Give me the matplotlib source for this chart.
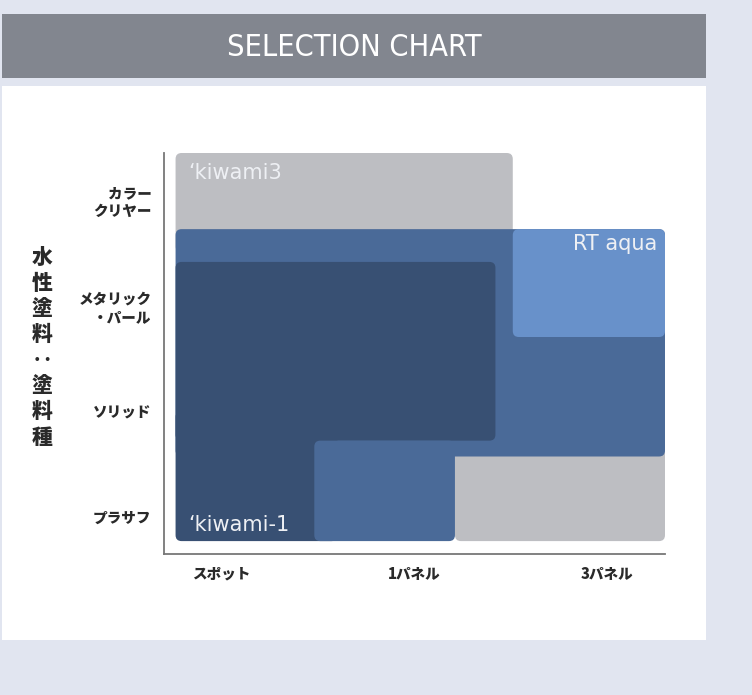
import matplotlib.pyplot as plt
from matplotlib.patches import FancyBboxPatch, Rectangle

plt.rcParams['font.family'] = ['Noto Sans CJK JP', 'DejaVu Sans']

# axis categories
x_labels = ['スポット', '1パネル', '3パネル']
y_labels = ['プラサフ', 'ソリッド', 'メタリック\n・パール', 'カラー\nクリヤー']
y_title = ['水', '性', '塗', '料', '‥', '塗', '料', '種']

# coverage boxes in category units (x: 1=spot .. 3=3 panels, y: 1=primer .. 4=clear)
box_name = ['kiwami3', 'kiwami3 low', 'RT aqua', 'RT aqua solo', 'kiwami-1', 'kiwami-1 low', 'RT aqua low']
box_x0 = [0.76, 2.21, 0.76, 2.51, 0.76, 0.76, 1.48]
box_x1 = [2.51, 3.30, 3.30, 3.30, 2.42, 1.60, 2.21]
box_y0 = [3.50, 0.77, 1.57, 2.70, 1.72, 0.77, 0.77]
box_y1 = [4.44, 2.00, 3.72, 3.72, 3.41, 2.00, 1.72]
box_col = ['#bdbec2', '#bdbec2', '#4a6a98', '#6891ca', '#385073', '#385073', '#4a6a98']

W, H = 752, 695
fig = plt.figure(figsize=(W / 100, H / 100), dpi=100)
fig.patch.set_facecolor('#e1e5f0')

# white panel and grey header
fig.add_artist(Rectangle((2 / W, 55 / H), 704 / W, 554 / H, transform=fig.transFigure,
                         facecolor='white', edgecolor='none', zorder=-10))
fig.add_artist(Rectangle((2 / W, (H - 78) / H), 704 / W, 64 / H, transform=fig.transFigure,
                         facecolor='#82868f', edgecolor='none', zorder=-10))
fig.text(354 / W, (H - 47) / H, 'SELECTION CHART', color='white', fontsize=22,
         family=['DejaVu Sans'], fontstretch='condensed', ha='center', va='center')

ax_l, ax_r, ax_t, ax_b = 164, 665, 153, 554
ax = fig.add_axes([ax_l / W, (H - ax_b) / H, (ax_r - ax_l) / W, (ax_b - ax_t) / H])
ax.set_facecolor('none')
ax.set_xlim(0.70, 3.30)
ax.set_ylim(0.648, 4.44)

# keep rounded corners circular in pixel space
xpp = (3.30 - 0.70) / (ax_r - ax_l)
ypp = (4.44 - 0.648) / (ax_b - ax_t)
aspect = ypp / xpp
r = 6 * xpp

for i in range(len(box_name)):
    ax.add_patch(FancyBboxPatch((box_x0[i], box_y0[i]), box_x1[i] - box_x0[i], box_y1[i] - box_y0[i],
                                boxstyle=f'round,pad=0,rounding_size={r}', mutation_aspect=aspect,
                                facecolor=box_col[i], edgecolor='none', clip_on=False))

lab_kw = dict(color='#eef0f4', fontsize=15, family=['DejaVu Sans'], va='center')
ax.text(box_x0[0] + 0.065, box_y1[0] - 0.19, '‘kiwami3', ha='left', **lab_kw)
ax.text(box_x1[3] - 0.04, box_y1[3] - 0.14, 'RT aqua', ha='right', **lab_kw)
ax.text(box_x0[5] + 0.065, box_y0[5] + 0.155, '‘kiwami-1', ha='left', **lab_kw)

for s in ['top', 'right']:
    ax.spines[s].set_visible(False)
for s in ['left', 'bottom']:
    ax.spines[s].set_color('#777777')
    ax.spines[s].set_linewidth(1.3)

ax.set_xticks([1, 2, 3])
ax.set_xticklabels(x_labels, fontsize=10.5, fontweight='heavy', color='#2a2a2a')
ax.set_yticks([1, 2, 3, 4])
ax.set_yticklabels(y_labels, fontsize=10.5, fontweight='heavy', color='#2a2a2a',
                   linespacing=1.25, ha='right')
ax.tick_params(axis='x', length=0, pad=9)
ax.tick_params(axis='y', length=0, pad=9)

for k, ch in enumerate(y_title):
    fig.text(42 / W, (H - 258 - k * 25.7) / H, ch, fontsize=15, fontweight='heavy',
             color='#2a2a2a', ha='center', va='center')

fig.savefig('out.png', dpi=100, facecolor=fig.get_facecolor())
